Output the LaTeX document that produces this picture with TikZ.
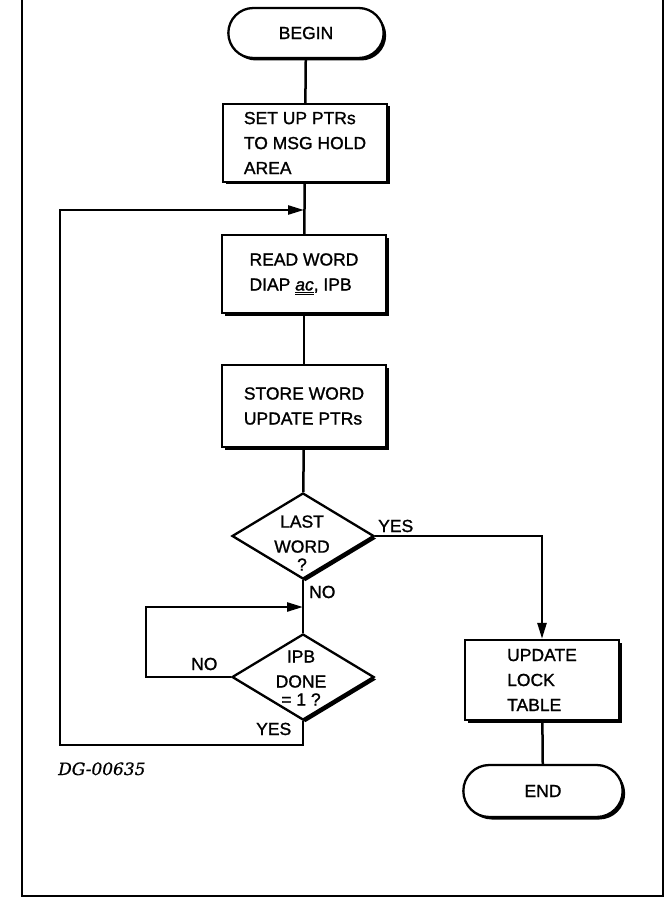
\documentclass[tikz,border=0pt]{standalone}
\usepackage{fontspec}
\setmainfont[FakeBold=1.2]{Liberation Sans}
\newfontfamily\dgfont[FakeBold=0.8]{DejaVu Serif}
\usetikzlibrary{shapes.geometric,shapes.misc,shadows,arrows.meta}
\begin{document}
\begin{tikzpicture}[x=1pt,y=-1pt,
  every node/.style={font=\fontsize{17.5}{25}\selectfont},
  shad/.style={drop shadow={shadow xshift=2.5pt,shadow yshift=-2.5pt,fill=black,opacity=1}},
  proc/.style={draw,line width=2.3pt,fill=white,shad,align=left,minimum height=78pt,minimum width=164pt,inner sep=0pt},
  term/.style={draw,rounded rectangle,line width=2.3pt,fill=white,shad,minimum width=162pt,minimum height=50pt},
  dec/.style={draw,diamond,line width=2.3pt,fill=white,shad,minimum width=142pt,minimum height=86pt,inner sep=0pt},
  dectext/.style={align=center,inner sep=0pt},
  conn/.style={line width=2.5pt},
  arr/.style={conn,-{Triangle[length=16pt,width=9pt]}},
  lbl/.style={inner sep=0pt}
]
\useasboundingbox (0,0) rectangle (670,901);
% frame
\draw[line width=2.5pt] (22,0) -- (22,896) -- (663,896) -- (663,0);

% nodes
\node[term] (begin) at (306,33) {BEGIN};
\node[proc] (setup) at (305,143) {SET UP PTRs\\TO MSG HOLD\\AREA};
\node[proc] (read) at (304,274) {READ WORD\\DIAP \underline{\underline{\itshape ac}}, IPB};
\node[proc, minimum height=82pt] (store) at (304,406) {STORE WORD\\UPDATE PTRs};
\node[dec] (last) at (303,536) {};
\node[dectext] (lastt) at (302,543) {LAST\\WORD\\[-7pt]?};
\node[dec] (ipb) at (303,677) {};
\node[dectext] (ipbt) at (301,678) {IPB\\DONE\\[-7pt]= 1 ?};
\node[proc, minimum width=154pt, minimum height=80pt] (upd) at (542,680) {UPDATE\\LOCK\\TABLE};
\node[term, minimum width=166pt, minimum height=52pt] (end) at (543,791) {END};

% coordinates
\coordinate (j1) at (304,210);
\coordinate (lt) at (60,210);
\coordinate (lb) at (60,745);
\coordinate (yb) at (303,745);
\coordinate (j2) at (303,607);
\coordinate (il) at (146,607);

% connectors
\draw[conn] (begin) -- (setup);
\draw[conn] (setup) -- (read);
\draw[conn] (read) -- (store);
\draw[conn] (store) -- (last);
\draw[conn] (last) -- (ipb);
\draw[arr] (ipb.south) -- (yb) -- (lb) -- (lt) -- (j1);
\draw[arr] (ipb.west) -- (ipb.west -| il) -- (il) -- (j2);
\draw[arr] (last.east) -- (last.east -| upd) -- (upd.north);
\draw[conn] (upd) -- (end);

% labels
\node[lbl, anchor=base west] (yes1) at (378,532) {YES};
\node[lbl, anchor=base west] (no1) at (309,598) {NO};
\node[lbl, anchor=base west] (no2) at (191,670) {NO};
\node[lbl, anchor=base west] (yes2) at (256,735) {YES};
\node[lbl, anchor=base west, font=\dgfont\itshape\fontsize{17}{20}\selectfont] (dg) at (58,775) {DG-00635};
\end{tikzpicture}
\end{document}
